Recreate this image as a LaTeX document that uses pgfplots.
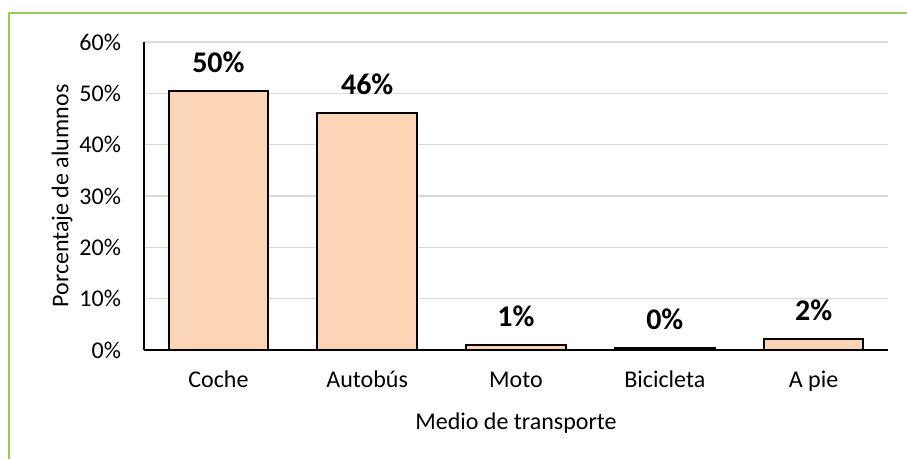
\documentclass[border=0pt]{standalone}
\usepackage{pgfplots}
\pgfplotsset{compat=1.18}
\usepackage{fontspec}
\setmainfont{Carlito}

\definecolor{barfill}{RGB}{251,213,181}
\definecolor{framegreen}{RGB}{155,200,90}
\definecolor{gridgray}{RGB}{217,217,217}

\begin{document}
\begin{tikzpicture}
\useasboundingbox (0,0) rectangle (453.5pt,229.5pt);
\clip (0,0) rectangle (453.5pt,229.5pt);
% green frame of the chart area
\draw[framegreen, line width=1pt] (4.5pt,-2pt) -- (4.5pt,223pt) -- (460pt,223pt);
\begin{axis}[
    at={(72pt,54.5pt)}, anchor=south west,
    scale only axis,
    width=372pt, height=154pt,
    ybar, bar width=0.67,
    xmin=-0.5, xmax=4.5,
    ymin=0, ymax=60,
    xtick=data,
    xticklabels={Coche,Autobús,Moto,Bicicleta,A pie},
    ytick={0,10,20,30,40,50,60},
    yticklabel={\pgfmathprintnumber{\tick}\%},
    /pgf/number format/assume math mode=true,
    major tick length=0pt,
    axis x line=bottom, axis y line=left,
    axis line style={-, black, line width=0.7pt},
    ymajorgrids, grid style={gridgray, line width=0.8pt},
    tick label style={font=\fontsize{12}{14}\selectfont},
    yticklabel style={xshift=-8pt},
    xticklabel style={anchor=base, yshift=-19pt},
    every axis x label/.style={at={(axis description cs:0.5,0)}, anchor=base, yshift=-40pt},
    every axis y label/.style={at={(axis description cs:0,0.5)}, xshift=-41pt, anchor=center, rotate=90},
    label style={font=\fontsize{12}{14}\selectfont},
    xlabel={Medio de transporte},
    ylabel={Porcentaje de alumnos},
    nodes near coords={\pgfmathprintnumber[fixed,precision=0]{\pgfplotspointmeta}\%},
    every node near coord/.append style={font=\fontsize{15}{18}\bfseries, anchor=center, yshift=14.5pt},
    clip=false
]
\addplot[fill=barfill, draw=black, line width=1pt] coordinates {
    (0,50.4) (1,46.1) (2,1.0) (3,0.3) (4,2.1)
};
\end{axis}
\end{tikzpicture}
\end{document}
